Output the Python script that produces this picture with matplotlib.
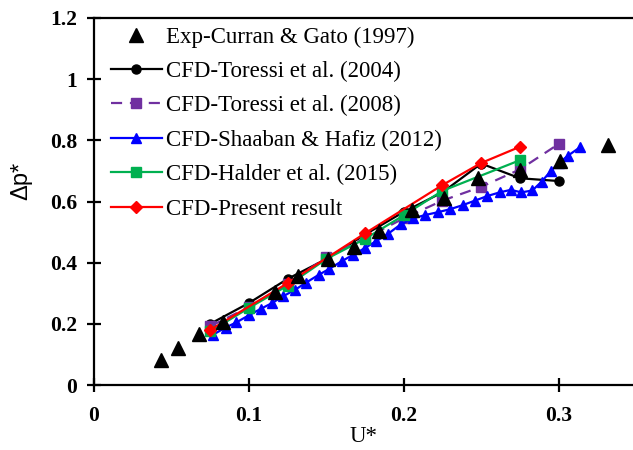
import matplotlib
matplotlib.use("Agg")
import matplotlib.pyplot as plt

plt.rcParams['font.family'] = ['Liberation Serif', 'DejaVu Serif']

# Exp-Curran & Gato (1997)
exp_x = [0.043, 0.054, 0.068, 0.083, 0.117, 0.132, 0.151, 0.168, 0.184, 0.2055, 0.226, 0.248, 0.275, 0.301, 0.332]
exp_y = [0.082, 0.121, 0.167, 0.205, 0.305, 0.356, 0.411, 0.452, 0.503, 0.572, 0.612, 0.676, 0.703, 0.734, 0.785]

# CFD-Toressi et al. (2004)
t04_x = [0.075, 0.1, 0.125, 0.15, 0.175, 0.2, 0.225, 0.25, 0.275, 0.3]
t04_y = [0.200, 0.268, 0.347, 0.412, 0.492, 0.566, 0.630, 0.724, 0.676, 0.667]

# CFD-Toressi et al. (2008)
t08_x = [0.075, 0.1, 0.125, 0.15, 0.175, 0.2, 0.225, 0.25, 0.275, 0.3]
t08_y = [0.192, 0.255, 0.330, 0.418, 0.480, 0.545, 0.603, 0.648, 0.705, 0.788]

# CFD-Shaaban & Hafiz (2012)
sh_x = [0.077, 0.085, 0.092, 0.100, 0.108, 0.115, 0.122, 0.130, 0.137, 0.145, 0.152,
        0.160, 0.167, 0.175, 0.182, 0.190, 0.198, 0.206, 0.214, 0.222, 0.230, 0.238,
        0.246, 0.254, 0.262, 0.269, 0.276, 0.283, 0.289, 0.295, 0.300, 0.306, 0.314]
sh_y = [0.165, 0.188, 0.205, 0.228, 0.250, 0.268, 0.290, 0.312, 0.335, 0.360, 0.380,
        0.405, 0.425, 0.448, 0.470, 0.495, 0.525, 0.545, 0.556, 0.565, 0.575, 0.588,
        0.603, 0.618, 0.630, 0.638, 0.630, 0.636, 0.665, 0.700, 0.725, 0.750, 0.778]

# CFD-Halder et al. (2015)
ha_x = [0.075, 0.1, 0.125, 0.15, 0.175, 0.2, 0.225, 0.275]
ha_y = [0.175, 0.252, 0.325, 0.412, 0.478, 0.555, 0.635, 0.735]

# CFD-Present result
pr_x = [0.075, 0.125, 0.175, 0.225, 0.25, 0.275]
pr_y = [0.180, 0.333, 0.496, 0.654, 0.726, 0.779]

fig = plt.figure(figsize=(6.33, 4.5), dpi=100)
ax = fig.add_axes([0.1485, 0.1444, 0.8515, 0.8156])

l1, = ax.plot(t04_x, t04_y, color='black', lw=1.6, marker='o', ms=6.5,
              label='CFD-Toressi et al. (2004)')
l2, = ax.plot(t08_x, t08_y, color='#7030A0', lw=1.6, ls=(0, (5, 3.5)), marker='s', ms=7.5,
              label='CFD-Toressi et al. (2008)')
l3, = ax.plot(sh_x, sh_y, color='#0000FF', lw=1.6, marker='^', ms=7.5,
              label='CFD-Shaaban & Hafiz (2012)')
l4, = ax.plot(ha_x, ha_y, color='#00B050', lw=1.6, marker='s', ms=7.5,
              label='CFD-Halder et al. (2015)')
l5, = ax.plot(pr_x, pr_y, color='#FF0000', lw=1.6, marker='D', ms=6.5,
              label='CFD-Present result')
l0, = ax.plot(exp_x, exp_y, color='black', ls='none', marker='^', ms=9.5,
              label='Exp-Curran & Gato (1997)')

ax.set_xlim(0, 0.348)
ax.set_ylim(0, 1.2)
ax.set_xticks([0, 0.1, 0.2, 0.3])
ax.set_xticklabels(['0', '0.1', '0.2', '0.3'])
ax.set_yticks([0, 0.2, 0.4, 0.6, 0.8, 1.0, 1.2])
ax.set_yticklabels(['0', '0.2', '0.4', '0.6', '0.8', '1', '1.2'])

for lbl in ax.get_xticklabels() + ax.get_yticklabels():
    lbl.set_fontweight('bold')
    lbl.set_fontsize(15.5)

ax.tick_params(direction='inout', length=10, width=1.6, pad=7)
ax.tick_params(axis='x', pad=10)
ax.spines['right'].set_visible(False)
for s in ['left', 'bottom', 'top']:
    ax.spines[s].set_linewidth(1.6)

ax.set_xlabel('U*', fontsize=16.5)
ax.xaxis.set_label_coords(0.5, -0.112)
ax.set_ylabel('Δp*', fontsize=17, family=['Liberation Sans', 'DejaVu Sans'])
ax.yaxis.set_label_coords(-0.115, 0.555)

ax.legend(handles=[l0, l1, l2, l3, l4, l5], loc='upper left', frameon=False,
          fontsize=16.5, handlelength=2.2, handletextpad=0.2, labelspacing=0.58,
          borderaxespad=0.0, bbox_to_anchor=(0.015, 1.002))

fig.savefig('out.png', dpi=100)
